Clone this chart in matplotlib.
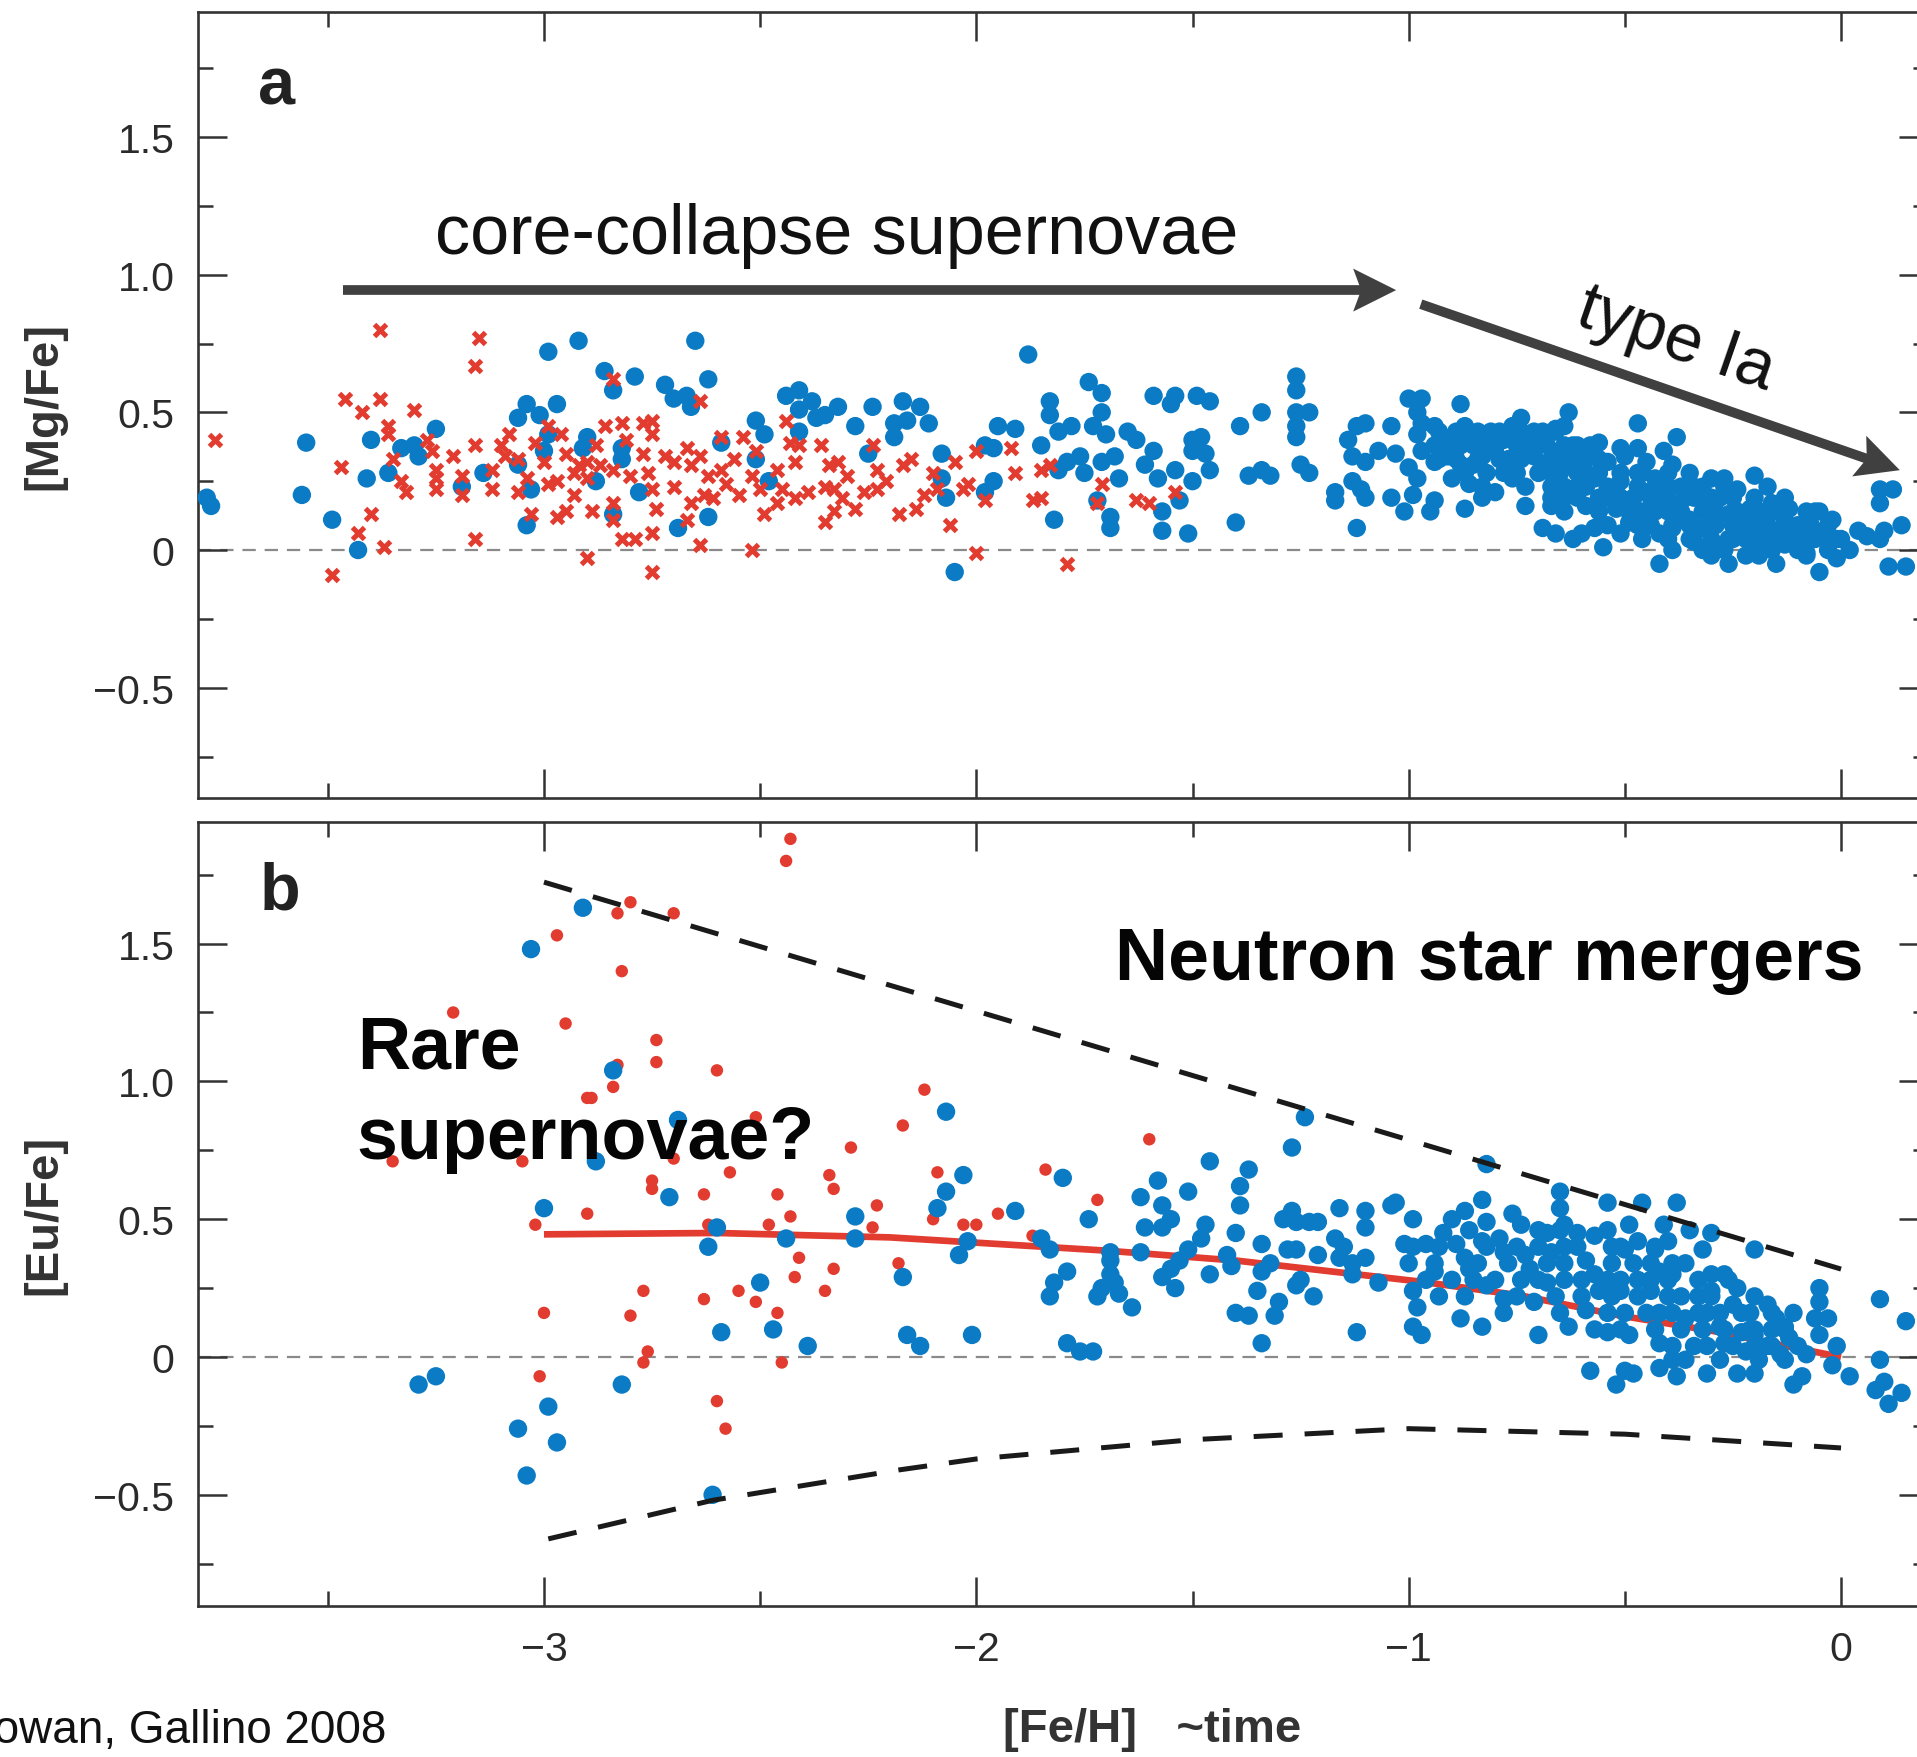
import numpy as np
import matplotlib
matplotlib.use("Agg")
import matplotlib.pyplot as plt
from matplotlib.patches import Polygon

plt.rcParams['font.family'] = ['Liberation Sans', 'DejaVu Sans']

# ---------------- data ----------------
# Panel a: [Mg/Fe] vs [Fe/H]
mg_blue_feh = [
    -3.78, -3.77, -3.55, -3.56, -3.49, -3.43, -3.40, -3.41, -3.36, -3.33, -3.30, -3.29, -3.25, -3.19,
    -3.14, -3.06, -3.04, -3.01, -2.99, -2.97, -2.99, -3.00, -3.06, -3.03, -3.04, -2.92, -2.86, -2.84,
    -2.79, -2.90, -2.91, -2.88, -2.82, -2.82, -2.78, -2.84, -2.72, -2.70, -2.67, -2.66, -2.65, -2.62,
    -2.69, -2.62, -2.59, -2.51, -2.49, -2.51, -2.48,
    -2.44, -2.41, -2.41, -2.41, -2.38, -2.37, -2.35, -2.32, -2.28, -2.24, -2.25, -2.19, -2.19, -2.17,
    -2.16, -2.13, -2.11, -2.08, -2.08, -2.07, -2.05, -1.98, -1.96, -1.95, -1.91, -1.98, -1.96, -1.88,
    -1.85, -1.83, -1.83, -1.81, -1.78, -1.81, -1.79, -1.76, -1.75, -1.82, -1.74, -1.71, -1.71, -1.73,
    -1.70, -1.71, -1.68, -1.67, -1.72, -1.69, -1.69, -1.65, -1.63, -1.61, -1.59, -1.58, -1.57, -1.57,
    -1.59, -1.55, -1.54, -1.54, -1.53, -1.51, -1.50, -1.49, -1.46, -1.50, -1.48, -1.50, -1.47, -1.46,
    -1.40, -1.39, -1.37, -1.34, -1.34, -1.32, -1.26, -1.26, -1.26, -1.23, -1.26, -1.26, -1.25, -1.23,
    -1.17, -1.17,
    -1.12, -1.10, -1.14, -1.13, -1.10, -1.07, -1.13, -1.11, -1.10, -1.12, -1.04, -1.03, -1.04, -1.01,
    -1.00, -0.97, -0.98, -0.97, -0.98, -0.94, -0.97, -1.00, -0.98, -0.99, -0.94, -0.95, -0.88, -0.92,
    -0.94, -0.91, -0.89, -0.87, -0.88, -0.86, -0.87, -0.85, -0.84, -0.81, -0.83, -0.80, -0.83, -0.80,
    -0.78, -0.77, -0.76, -0.74, -0.76, -0.73, -0.73, -0.71, -0.71, -0.69, -0.68, -0.66, -0.63, -0.64,
    -0.66, -0.67, -0.69, -0.66, -0.62, -0.64, -0.62, -0.62, -0.60, -0.58, -0.61, -0.59, -0.57, -0.55,
    -0.56, -0.54, -0.51, -0.50, -0.51, -0.52, -0.57, -0.47, -0.47, -0.48, -0.49, -0.45, -0.45, -0.43,
    -0.42, -0.42, -0.41, -0.38, -0.39, -0.40, -0.39, -0.39, -0.39, -0.35, -0.36, -0.35, -0.34, -0.32,
    -0.31, -0.30, -0.29, -0.26, -0.27, -0.28, -0.26, -0.24, -0.24, -0.22, -0.20, -0.21, -0.19, -0.17,
    -0.18, -0.16, -0.15, -0.14, -0.13, -0.12, -0.10, -0.08, -0.06, -0.05, -0.05, -0.02, -0.01, 0.00,
    0.02, 0.04, 0.06, 0.09, 0.12, 0.09, 0.10, 0.09, 0.14, 0.11, 0.15,
    -0.67, -0.60, -0.54, -0.51, -0.46, -0.41, -0.37, -0.32, -0.30, -0.25, -0.22, -0.19, -0.16, -0.11,
    -0.08, -0.03, -0.75, -0.67, -0.65, -0.78, -0.85, -0.90, -0.59, -0.56, -0.47, -0.43, -0.32, -0.30,
    -0.19, -0.13,
    # dense thin-disk cloud
    -0.93, -0.89, -0.86, -0.79, -0.74, -0.69, -0.66,
    -0.94, -0.88, -0.83, -0.75, -0.71, -0.64, -0.61,
    -0.93, -0.89, -0.84, -0.79, -0.74, -0.67, -0.63, -0.59, -0.56,
    -0.87, -0.82, -0.75, -0.70, -0.67, -0.61, -0.56, -0.51, -0.46, -0.40,
    -0.83, -0.73, -0.64, -0.59, -0.52, -0.47, -0.42, -0.37, -0.34, -0.27,
    -0.67, -0.61, -0.54, -0.51, -0.44, -0.40, -0.34, -0.30, -0.25, -0.20, -0.13,
    -0.64, -0.56, -0.49, -0.46, -0.40, -0.37, -0.32, -0.29, -0.24, -0.19, -0.15, -0.08, -0.05,
    -0.54, -0.47, -0.44, -0.39, -0.35, -0.29, -0.25, -0.20, -0.17, -0.12, -0.07, -0.03,
    -0.40, -0.35, -0.30, -0.26, -0.22, -0.17, -0.13, -0.09, -0.06, -0.01,
    -0.32, -0.27, -0.20, -0.16, -0.10, -0.03,
    -0.30, -0.19, -0.08,
]
mg_blue_mgfe = [
    0.19, 0.16, 0.39, 0.20, 0.11, 0.00, 0.40, 0.26, 0.28, 0.37, 0.38, 0.34, 0.44, 0.23,
    0.28, 0.48, 0.53, 0.49, 0.72, 0.53, 0.42, 0.36, 0.31, 0.22, 0.09, 0.76, 0.65, 0.58,
    0.63, 0.41, 0.37, 0.25, 0.37, 0.33, 0.21, 0.13, 0.60, 0.55, 0.56, 0.52, 0.76, 0.62,
    0.08, 0.12, 0.39, 0.47, 0.42, 0.33, 0.25,
    0.56, 0.58, 0.51, 0.43, 0.54, 0.48, 0.49, 0.52, 0.45, 0.52, 0.35, 0.46, 0.41, 0.54,
    0.47, 0.52, 0.46, 0.35, 0.26, 0.19, -0.08, 0.38, 0.37, 0.45, 0.44, 0.21, 0.25, 0.71,
    0.38, 0.54, 0.49, 0.43, 0.45, 0.29, 0.32, 0.34, 0.28, 0.11, 0.61, 0.57, 0.50, 0.45,
    0.42, 0.32, 0.34, 0.26, 0.18, 0.12, 0.08, 0.43, 0.40, 0.31, 0.36, 0.26, 0.14, 0.07,
    0.56, 0.53, 0.56, 0.29, 0.18, 0.06, 0.25, 0.56, 0.54, 0.40, 0.41, 0.36, 0.35, 0.29,
    0.10, 0.45, 0.27, 0.50, 0.29, 0.27, 0.63, 0.58, 0.50, 0.50, 0.45, 0.41, 0.31, 0.28,
    0.21, 0.18,
    0.45, 0.46, 0.40, 0.34, 0.32, 0.36, 0.25, 0.22, 0.19, 0.08, 0.45, 0.35, 0.19, 0.14,
    0.55, 0.55, 0.50, 0.46, 0.42, 0.45, 0.36, 0.30, 0.26, 0.20, 0.18, 0.14, 0.53, 0.40,
    0.32, 0.34, 0.38, 0.45, 0.31, 0.24, 0.15, 0.38, 0.43, 0.43, 0.34, 0.37, 0.19, 0.21,
    0.40, 0.33, 0.45, 0.48, 0.26, 0.16, 0.39, 0.43, 0.34, 0.29, 0.38, 0.44, 0.50, 0.45,
    0.34, 0.23, 0.08, 0.06, 0.04, 0.19, 0.31, 0.38, 0.34, 0.38, 0.23, 0.16, 0.26, 0.01,
    0.19, 0.32, 0.37, 0.34, 0.25, 0.15, 0.08, 0.46, 0.28, 0.19, 0.10, 0.32, 0.21, 0.14,
    0.06, -0.05, 0.36, 0.41, 0.31, 0.23, 0.16, 0.08, 0.00, 0.28, 0.19, 0.11, 0.03, 0.23,
    0.17, 0.09, 0.02, -0.05, 0.26, 0.19, 0.13, 0.22, 0.06, -0.02, 0.27, 0.15, 0.04, 0.23,
    0.11, 0.17, -0.05, 0.06, 0.02, 0.15, 0.09, -0.01, 0.14, 0.05, -0.08, 0.11, -0.03, 0.04,
    0.00, 0.07, 0.05, 0.22, 0.22, 0.17, 0.07, 0.04, 0.09, -0.06, -0.06,
    0.16, 0.06, 0.23, 0.06, 0.04, 0.17, 0.11, 0.08, 0.15, 0.04, 0.09, -0.01, 0.04, 0.04,
    0.06, 0.03, 0.40, 0.33, 0.28, 0.28, 0.31, 0.26, 0.28, 0.39, 0.37, 0.26, 0.20, 0.26,
    0.14, 0.10,
    0.43, 0.43, 0.43, 0.43, 0.43, 0.43, 0.43,
    0.38, 0.38, 0.38, 0.38, 0.38, 0.38, 0.38,
    0.33, 0.33, 0.33, 0.33, 0.33, 0.33, 0.33, 0.33, 0.33,
    0.28, 0.28, 0.28, 0.28, 0.28, 0.28, 0.28, 0.28, 0.28, 0.28,
    0.23, 0.23, 0.23, 0.23, 0.23, 0.23, 0.23, 0.23, 0.23, 0.23,
    0.19, 0.19, 0.19, 0.19, 0.19, 0.19, 0.19, 0.19, 0.19, 0.19, 0.19,
    0.14, 0.14, 0.14, 0.14, 0.14, 0.14, 0.14, 0.14, 0.14, 0.14, 0.14, 0.14, 0.14,
    0.09, 0.09, 0.09, 0.09, 0.09, 0.09, 0.09, 0.09, 0.09, 0.09, 0.09, 0.09,
    0.04, 0.04, 0.04, 0.04, 0.04, 0.04, 0.04, 0.04, 0.04, 0.04,
    0.00, 0.00, 0.00, 0.00, 0.00, 0.00,
    -0.02, -0.02, -0.02,
]
mg_red_feh = [
    -3.76, -3.38, -3.15, -3.16, -3.46, -3.38, -3.42, -3.47, -3.40, -3.43, -3.37, -3.49, -3.30, -3.36,
    -3.36, -3.35, -3.33, -3.32, -3.27, -3.26, -3.25, -3.25, -3.25, -3.21, -3.19, -3.19, -3.16, -3.16,
    -3.12, -3.12, -3.10, -3.08, -3.09, -3.06, -3.06, -3.04, -3.03, -3.02, -3.00, -2.99, -2.96, -2.99,
    -2.97, -2.97, -2.95, -2.95, -2.93, -2.93, -2.92, -2.90, -2.90, -2.89, -2.90, -2.88, -2.87, -2.86,
    -2.84, -2.84, -2.84, -2.84, -2.82, -2.82, -2.81, -2.80, -2.79, -2.77, -2.77, -2.75, -2.75, -2.76,
    -2.75, -2.74, -2.75, -2.75, -2.72, -2.70, -2.70, -2.67, -2.66, -2.66, -2.67, -2.64, -2.64, -2.64,
    -2.62, -2.63, -2.61, -2.59, -2.59, -2.58, -2.56, -2.55, -2.54, -2.52, -2.52, -2.51, -2.50, -2.49,
    -2.44, -2.43, -2.41, -2.42, -2.46, -2.45, -2.46, -2.42, -2.39, -2.36, -2.34, -2.32, -2.30, -2.35,
    -2.33, -2.31, -2.28, -2.33, -2.35, -2.26, -2.24, -2.23, -2.21, -2.23, -2.17, -2.15, -2.18, -2.14,
    -2.12, -2.10, -2.09, -2.06, -2.05, -2.03, -2.02, -2.00, -2.00, -1.98, -1.92, -1.91, -1.87, -1.85,
    -1.85, -1.83, -1.79, -1.71, -1.72, -1.63, -1.60, -1.54,
]
mg_red_mgfe = [
    0.40, 0.80, 0.77, 0.67, 0.55, 0.55, 0.50, 0.30, 0.13, 0.06, 0.01, -0.09, 0.51, 0.45,
    0.42, 0.33, 0.25, 0.21, 0.40, 0.36, 0.29, 0.26, 0.22, 0.34, 0.27, 0.20, 0.38, 0.04,
    0.22, 0.29, 0.38, 0.42, 0.34, 0.33, 0.21, 0.26, 0.13, 0.39, 0.32, 0.45, 0.42, 0.24,
    0.25, 0.12, 0.14, 0.35, 0.28, 0.20, 0.31, 0.32, 0.26, 0.14, -0.03, 0.38, 0.31, 0.45,
    0.62, 0.29, 0.17, 0.11, 0.46, 0.04, 0.40, 0.27, 0.04, 0.35, 0.46, 0.47, 0.42, 0.28,
    0.22, 0.15, 0.06, -0.08, 0.34, 0.32, 0.23, 0.37, 0.31, 0.17, 0.11, 0.54, 0.02, 0.34,
    0.27, 0.20, 0.19, 0.41, 0.29, 0.24, 0.33, 0.20, 0.41, 0.00, 0.27, 0.36, 0.22, 0.13,
    0.47, 0.39, 0.38, 0.32, 0.29, 0.22, 0.17, 0.19, 0.21, 0.38, 0.31, 0.32, 0.27, 0.23,
    0.22, 0.19, 0.15, 0.14, 0.10, 0.21, 0.38, 0.29, 0.25, 0.22, 0.31, 0.33, 0.13, 0.15,
    0.20, 0.28, 0.22, 0.09, 0.32, 0.22, 0.24, 0.36, -0.01, 0.18, 0.37, 0.28, 0.18, 0.19,
    0.29, 0.31, -0.05, 0.24, 0.17, 0.18, 0.17, 0.21,
]

# Panel b: [Eu/Fe] vs [Fe/H]
eu_blue_feh = [
    -3.29, -3.25, -3.03, -2.91, -2.84, -2.88, -3.00, -2.71, -2.60, -2.62, -2.44, -2.28, -2.28, -2.50,
    -2.47, -2.59, -2.39, -2.82, -2.99, -3.06, -2.97, -3.04, -2.61, -2.69,
    -2.07, -2.03, -2.07, -2.09, -1.91, -1.80, -1.74, -2.02, -2.04, -2.17, -2.16, -2.13, -2.01, -1.85,
    -1.83, -1.79, -1.82, -1.83, -1.79, -1.76, -1.73, -1.69, -1.69, -1.69, -1.71, -1.72, -1.68, -1.67,
    -1.64, -1.62, -1.58, -1.61, -1.57, -1.55, -1.57, -1.62, -1.51, -1.51, -1.53, -1.55, -1.57, -1.54,
    -1.46, -1.47, -1.48, -1.46, -1.37, -1.39, -1.39, -1.40, -1.42, -1.41, -1.34, -1.32, -1.34, -1.35,
    -1.30, -1.31, -1.40, -1.37, -1.34, -1.24, -1.27, -1.29, -1.27, -1.26, -1.23, -1.21, -1.28, -1.26,
    -1.21, -1.25, -1.26, -1.22, -1.16, -1.17, -1.15, -1.16, -1.13, -1.13, -1.10, -1.10, -1.10, -1.07,
    -1.12, -1.04, -1.03, -1.01, -0.99, -1.00, -0.99, -0.99, -0.99, -0.98,
    -0.82, -0.65, -0.65, -0.54, -0.46, -0.38, -0.83, -0.87, -0.90, -0.82, -0.76, -0.92, -0.96, -0.89,
    -0.83, -0.79, -0.74, -0.68, -0.64, -0.61, -0.57, -0.49, -0.41, -0.35, -0.30, -0.94, -0.87, -0.86,
    -0.78, -0.73, -0.72, -0.67, -0.64, -0.59, -0.53, -0.50, -0.47, -0.43, -0.40, -0.32, -0.20, -0.96,
    -0.97, -0.88, -0.83, -0.90, -0.78, -0.82, -0.74, -0.71, -0.70, -0.64, -0.63, -0.68, -0.59, -0.56,
    -0.57, -0.54, -0.51, -0.54, -0.50, -0.49, -0.58, -0.52, -0.50, -0.48, -0.47, -0.44, -0.42, -0.42,
    -0.39, -0.36, -0.42, -0.42, -0.38, -0.37, -0.36, -0.34, -0.36, -0.31, -0.31, -0.30, -0.27, -0.30,
    -0.28, -0.27, -0.25, -0.24, -0.23, -0.24, -0.22, -0.21, -0.20, -0.20, -0.17, -0.17, -0.15, -0.14,
    -0.13, -0.12, -0.11, -0.09, -0.08, -0.05, -0.05, -0.06, -0.03, -0.05, -0.01, -0.02, 0.02, 0.09,
    0.15, 0.09, 0.10, 0.08, 0.11, 0.14, -0.20,
    # dense disk clump
    -0.86, -0.70, -0.65, -0.54,
    -0.93, -0.82, -0.75, -0.70, -0.61, -0.51, -0.43,
    -0.94, -0.84, -0.77, -0.68, -0.64, -0.53, -0.48, -0.44, -0.39,
    -0.85, -0.80, -0.70, -0.60, -0.51, -0.44, -0.40, -0.33, -0.26,
    -0.93, -0.87, -0.75, -0.66, -0.60, -0.53, -0.47, -0.40, -0.33, -0.30, -0.20,
    -0.78, -0.65, -0.54, -0.45, -0.39, -0.33, -0.28, -0.23, -0.16, -0.11,
    -0.57, -0.51, -0.43, -0.37, -0.32, -0.27, -0.21, -0.16, -0.13,
    -0.39, -0.31, -0.25, -0.20, -0.16, -0.10,
    -0.39, -0.28, -0.19, -0.13,
]
eu_blue_eufe = [
    -0.10, -0.07, 1.48, 1.63, 1.04, 0.71, 0.54, 0.58, 0.47, 0.40, 0.43, 0.51, 0.43, 0.27,
    0.10, 0.09, 0.04, -0.10, -0.18, -0.26, -0.31, -0.43, -0.50, 0.86,
    0.89, 0.66, 0.60, 0.54, 0.53, 0.65, 0.50, 0.42, 0.37, 0.29, 0.08, 0.04, 0.08, 0.43,
    0.39, 0.31, 0.27, 0.22, 0.05, 0.02, 0.02, 0.38, 0.35, 0.30, 0.25, 0.22, 0.27, 0.23,
    0.18, 0.58, 0.64, 0.47, 0.55, 0.50, 0.47, 0.38, 0.60, 0.39, 0.35, 0.32, 0.29, 0.25,
    0.71, 0.48, 0.43, 0.30, 0.68, 0.62, 0.55, 0.45, 0.37, 0.33, 0.41, 0.34, 0.31, 0.24,
    0.20, 0.15, 0.16, 0.15, 0.05, 0.87, 0.76, 0.50, 0.53, 0.49, 0.49, 0.49, 0.39, 0.39,
    0.37, 0.28, 0.26, 0.22, 0.54, 0.43, 0.40, 0.36, 0.34, 0.30, 0.53, 0.47, 0.36, 0.27,
    0.09, 0.55, 0.56, 0.41, 0.50, 0.34, 0.40, 0.24, 0.11, 0.18,
    0.70, 0.60, 0.54, 0.56, 0.56, 0.56, 0.57, 0.53, 0.50, 0.49, 0.52, 0.45, 0.41, 0.41,
    0.42, 0.43, 0.48, 0.45, 0.48, 0.45, 0.44, 0.48, 0.48, 0.46, 0.45, 0.31, 0.36, 0.32,
    0.38, 0.37, 0.32, 0.38, 0.40, 0.35, 0.40, 0.39, 0.42, 0.39, 0.42, 0.39, 0.39, 0.28,
    0.08, 0.14, 0.11, 0.28, 0.21, 0.26, 0.28, 0.20, 0.08, 0.28, 0.11, 0.27, 0.17, 0.24,
    0.30, 0.28, 0.24, 0.09, 0.16, 0.08, -0.05, -0.10, -0.05, -0.06, 0.28, 0.24, 0.16, 0.31,
    0.30, 0.34, 0.05, -0.04, -0.07, 0.22, 0.14, 0.04, -0.01, 0.16, -0.06, 0.30, 0.30, 0.24,
    0.11, 0.05, 0.19, 0.25, 0.09, -0.06, 0.02, 0.16, -0.06, 0.10, 0.19, 0.04, 0.14, 0.01,
    0.11, 0.07, -0.10, -0.07, 0.01, 0.25, 0.20, 0.14, 0.14, 0.08, 0.04, -0.03, -0.07, 0.21,
    0.13, -0.01, -0.09, -0.12, -0.17, -0.13, 0.08,
    0.46, 0.46, 0.46, 0.46,
    0.40, 0.40, 0.40, 0.40, 0.40, 0.40, 0.40,
    0.34, 0.34, 0.34, 0.34, 0.34, 0.34, 0.34, 0.34, 0.34,
    0.28, 0.28, 0.28, 0.28, 0.28, 0.28, 0.28, 0.28, 0.28,
    0.22, 0.22, 0.22, 0.22, 0.22, 0.22, 0.22, 0.22, 0.22, 0.22, 0.22,
    0.16, 0.16, 0.16, 0.16, 0.16, 0.16, 0.16, 0.16, 0.16, 0.16,
    0.10, 0.10, 0.10, 0.10, 0.10, 0.10, 0.10, 0.10, 0.10,
    0.04, 0.04, 0.04, 0.04, 0.04, 0.04,
    -0.01, -0.01, -0.01, -0.01,
]
eu_red_feh = [
    -2.43, -2.44, -2.80, -2.83, -2.70, -2.97, -2.82, -3.21, -2.95, -2.74, -2.74, -2.60, -2.83, -2.84,
    -2.90, -2.89, -2.51, -3.35, -3.05, -2.70, -2.57, -2.29, -2.75, -2.75, -2.63, -2.46, -2.34, -2.33,
    -2.23, -2.90, -3.02, -2.43, -2.62, -2.48, -2.24, -2.41, -2.33, -2.42, -2.77, -2.55, -2.35, -2.63,
    -2.51, -3.00, -2.80, -2.46, -2.76, -2.77, -2.45, -3.01, -2.60, -2.58,
    -2.12, -2.17, -2.09, -2.10, -2.03, -2.00, -1.95, -1.84, -1.72, -1.60, -2.18, -1.87,
]
eu_red_eufe = [
    1.88, 1.80, 1.65, 1.61, 1.61, 1.53, 1.40, 1.25, 1.21, 1.15, 1.07, 1.04, 1.06, 0.98,
    0.94, 0.94, 0.87, 0.71, 0.71, 0.72, 0.67, 0.76, 0.64, 0.61, 0.59, 0.59, 0.66, 0.61,
    0.55, 0.52, 0.48, 0.51, 0.48, 0.48, 0.47, 0.36, 0.32, 0.29, 0.24, 0.24, 0.24, 0.21,
    0.20, 0.16, 0.15, 0.16, 0.02, -0.02, -0.02, -0.07, -0.16, -0.26,
    0.97, 0.84, 0.67, 0.50, 0.48, 0.48, 0.52, 0.68, 0.57, 0.79, 0.34, 0.44,
]
# Mean trend and envelopes in panel b
mean_feh = [-3.0, -2.6, -2.2, -1.7, -1.4, -0.97, -0.74, -0.51, -0.28, -0.17, 0.0]
mean_eufe = [0.445, 0.45, 0.434, 0.386, 0.35, 0.273, 0.223, 0.15, 0.09, 0.053, 0.0]
upper_feh = [-3.0, -1.02, 0.0]
upper_eufe = [1.723, 0.797, 0.319]
lower_feh = [-2.99, -2.61, -2.18, -2.0, -1.5, -1.0, -0.5, 0.0]
lower_eufe = [-0.66, -0.52, -0.41, -0.37, -0.30, -0.26, -0.28, -0.33]

x_major = [-3, -2, -1, 0]
x_major_labels = ['\u22123', '\u22122', '\u22121', '0']
x_minor = [-3.5, -2.5, -1.5, -0.5]
y_major = [-0.5, 0, 0.5, 1.0, 1.5]
y_major_labels = ['\u22120.5', '0', '0.5', '1.0', '1.5']
y_minor = [-0.75, -0.25, 0.25, 0.75, 1.25, 1.75]

# ---------------- style ----------------
BLUE = '#0a7bc4'
RED = '#e23b2f'
AX_COL = '#333333'
ARROW_COL = '#404040'

W, H = 1917, 1758
fig = plt.figure(figsize=(W / 100, H / 100), dpi=100)

x_left, x_right = 198.1, 1927.5
ax_a = fig.add_axes([x_left / W, 1 - 799 / H, (x_right - x_left) / W, (799 - 12.6) / H])
ax_b = fig.add_axes([x_left / W, 1 - 1607 / H, (x_right - x_left) / W, (1607 - 823) / H])
ax_a.set_ylim(-0.9007, 1.9555)
ax_b.set_ylim(-0.9035, 1.9412)

for ax in (ax_a, ax_b):
    ax.set_xlim(-3.8, 0.2)
    ax.set_xticks(x_major)
    ax.set_xticks(x_minor, minor=True)
    ax.set_yticks(y_major)
    ax.set_yticklabels(y_major_labels)
    ax.set_yticks(y_minor, minor=True)
    ax.tick_params(which='both', direction='in', top=True, right=True,
                   color=AX_COL, width=1.8, labelsize=29.5, labelcolor='#2a2a2a', pad=17)
    ax.tick_params(which='major', length=21)
    ax.tick_params(which='minor', length=10.5)
    for sp in ax.spines.values():
        sp.set_linewidth(1.9)
        sp.set_color(AX_COL)
    ax.axhline(0, color='#8a8a8a', lw=1.6, dashes=(6, 4), zorder=1)

ax_a.set_xticklabels([])
ax_b.set_xticklabels(x_major_labels)

# Panel a scatter
ax_a.scatter(mg_blue_feh, mg_blue_mgfe, s=175, color=BLUE, edgecolors='none', zorder=3)
ax_a.plot(mg_red_feh, mg_red_mgfe, ls='none', marker='x', ms=9, mew=3.6, color=RED, zorder=4)

# Panel b scatter and curves
ax_b.scatter(eu_red_feh, eu_red_eufe, s=80, color=RED, edgecolors='none', zorder=3)
ax_b.plot(mean_feh, mean_eufe, color=RED, lw=4.8, solid_capstyle='butt', zorder=4)
ax_b.scatter(eu_blue_feh, eu_blue_eufe, s=175, color=BLUE, edgecolors='none', zorder=5)
ax_b.plot(upper_feh, upper_eufe, color='#1a1a1a', lw=3.6, dashes=(5.8, 4.4), zorder=6)
ax_b.plot(lower_feh, lower_eufe, color='#1a1a1a', lw=3.6, dashes=(5.8, 4.4), zorder=6)

# Axis labels
ax_a.set_ylabel('[Mg/Fe]', fontsize=34, fontweight='bold', color=AX_COL, va='center')
ax_b.set_ylabel('[Eu/Fe]', fontsize=34, fontweight='bold', color=AX_COL, va='center')
for ax in (ax_a, ax_b):
    ax.yaxis.set_label_coords((44 - x_left) / (x_right - x_left), 0.5)

fig.text(1152 / W, 1 - 1730 / H, '[Fe/H]   ~time', fontsize=34, fontweight='bold',
         color=AX_COL, ha='center', va='center')
fig.text(386 / W, 1 - 1731 / H, 'Sneden, Cowan, Gallino 2008', fontsize=33,
         color='#111111', ha='right', va='center')

# Panel letters
ax_a.text(-3.662, 1.62, 'a', fontsize=48, fontweight='bold', color='#222222', va='baseline')
ax_b.text(-3.657, 1.626, 'b', fontsize=48, fontweight='bold', color='#222222', va='baseline')

# Annotations
ax_a.text(-2.322, 1.079, 'core-collapse supernovae', fontsize=50.5, color='#111111',
          ha='center', va='baseline', zorder=7)
ax_b.text(-0.814, 1.372, 'Neutron star mergers', fontsize=53, fontweight='bold',
          color='#050505', ha='center', va='baseline', zorder=7)
ax_b.text(-3.433, 1.049, 'Rare', fontsize=53, fontweight='bold', color='#050505',
          ha='left', va='baseline', zorder=7)
ax_b.text(-3.433, 0.722, 'supernovae?', fontsize=53, fontweight='bold', color='#050505',
          ha='left', va='baseline', zorder=7)


def stealth_arrow(ax, start, end, color, shaft_lw=7.0, head_len=43.0, head_half=21.5, notch=35.0):
    """Thick arrow with a notched (stealth) head, sized in pixels."""
    to_px = ax.transData.transform
    to_data = ax.transData.inverted().transform
    p0 = np.asarray(to_px(start), float)
    p1 = np.asarray(to_px(end), float)
    d = p1 - p0
    u = d / np.hypot(*d)
    n = np.array([-u[1], u[0]])
    head = np.array([p1,
                     p1 - u * head_len + n * head_half,
                     p1 - u * notch,
                     p1 - u * head_len - n * head_half])
    shaft_end = to_data(p1 - u * (notch - 6))
    ax.plot([start[0], shaft_end[0]], [start[1], shaft_end[1]], color=color, lw=shaft_lw,
            solid_capstyle='butt', zorder=7, clip_on=False)
    ax.add_patch(Polygon(to_data(head), closed=True, facecolor=color, edgecolor='none',
                         zorder=7, clip_on=False))
    return np.degrees(np.arctan2(d[1], d[0]))


stealth_arrow(ax_a, (-3.465, 0.944), (-1.029, 0.944), ARROW_COL)
ang = stealth_arrow(ax_a, (-0.972, 0.893), (0.136, 0.290), ARROW_COL)
ax_a.text(-0.382, 0.766, 'type Ia', fontsize=49, color='#111111', rotation=ang,
          rotation_mode='anchor', ha='center', va='center', zorder=7)

fig.savefig('out.png', dpi=100, facecolor='white')
